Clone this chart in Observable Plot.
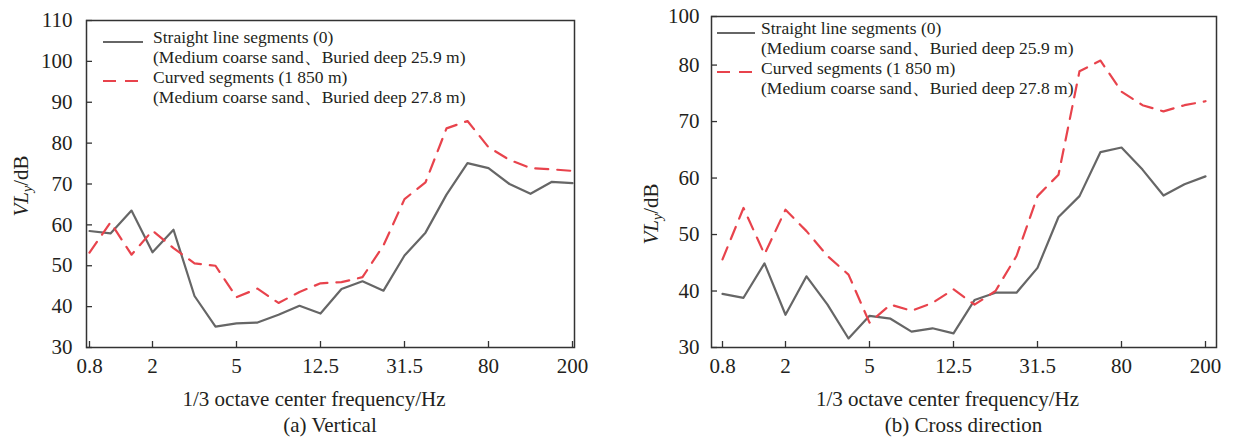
<!DOCTYPE html>
<html><head><meta charset="utf-8">
<script src="https://cdn.jsdelivr.net/npm/d3@7"></script>
<script src="https://cdn.jsdelivr.net/npm/@observablehq/plot@0.6"></script>
<style>
body{margin:0;background:#fff;width:1233px;height:438px;overflow:hidden;position:relative;font-family:"Liberation Serif","Times New Roman",serif;}
.panel{position:absolute;top:0;}
</style></head><body>
<div id="a" class="panel" style="left:0px"></div>
<div id="b" class="panel" style="left:620px"></div>
<script>
// 1/3 octave bands (as plotted: 24 points)
const freqs = ["0.8","1.25","1.6","2","2.5","3.15","4","5","6.3","8","10","12.5","16","20","25","31.5","40","50","63","80","100","125","160","200"];
const tickLabels = ["0.8","2","5","12.5","31.5","80","200"];

// (a) Vertical
const vertStraight = [58.5,57.9,63.5,53.3,58.8,42.6,35.1,35.9,36.1,38.0,40.2,38.3,44.3,46.2,43.9,52.5,58.1,67.4,75.1,73.9,70.0,67.6,70.5,70.2];
const vertCurved   = [53.2,60.6,52.7,58.6,54.3,50.6,50.0,42.3,44.4,40.9,43.6,45.7,46.0,47.2,55.0,66.3,70.4,83.6,85.4,79.0,75.9,73.9,73.6,73.2];
const vertYTicks = [30,40,50,60,70,80,90,100,110];
const vertYLabels = ["30","40","50","60","70","80","90","100","110"];

// (b) Cross direction
const crossStraight = [39.5,38.8,44.9,35.8,42.6,37.6,31.6,35.6,35.1,32.8,33.4,32.5,38.4,39.7,39.7,44.1,53.1,56.8,64.6,65.4,61.5,56.9,58.9,60.3];
const crossCurved   = [45.6,54.7,46.5,54.4,50.6,46.2,42.9,34.4,37.6,36.5,37.9,40.3,37.6,40.0,46.2,56.8,60.6,78.9,80.8,75.3,72.9,71.8,72.9,73.6];
const crossYTicks = [30,40,50,60,70,80,88.6];
const crossYLabels = ["30","40","50","60","70","80","100"];

const seriesNames = ["Straight line segments (0)", "Curved segments (1 850 m)"];
const seriesNotes = ["(Medium coarse sand\u3001Buried deep 25.9 m)", "(Medium coarse sand\u3001Buried deep 27.8 m)"];
const xTitle = "1/3 octave center frequency/Hz";
const captions = ["(a) Vertical", "(b) Cross direction"];

const GRAY = "#666666", RED = "#e8434c", INK = "#231f20", FRAME = "#333333";

function panel(el, o) {
  const data = freqs.map((f, i) => ({f, s: o.straight[i], c: o.curved[i]}));
  const H = 438;
  const chart = Plot.plot({
    width: o.width, height: H,
    marginLeft: o.ml, marginRight: o.mr, marginTop: o.mt, marginBottom: H - 347,
    style: {fontFamily: '"Liberation Serif","Times New Roman",serif', fontSize: "21px", color: INK, background: "#fff", overflow: "visible"},
    x: {type: "point", domain: freqs, padding: 0},
    y: {domain: o.yDomain},
    marks: [
      Plot.line(data, {x: "f", y: "s", stroke: GRAY, strokeWidth: 2.2}),
      Plot.line(data, {x: "f", y: "c", stroke: RED, strokeWidth: 2.2, strokeDasharray: "13,9"}),
      Plot.axisX(tickLabels, {tickSize: -6, tickFormat: () => "", label: null, stroke: FRAME, strokeWidth: 1.3}),
      Plot.axisX(tickLabels, {tickSize: 0, tickPadding: 11, label: null, fill: INK}),
      Plot.axisY(o.yTicks, {tickSize: -6, tickFormat: () => "", label: null, stroke: FRAME, strokeWidth: 1.3}),
      Plot.axisY(o.yTicks, {tickSize: 0, tickPadding: o.ypad, label: null, fill: INK,
        tickFormat: d => o.yLabels[o.yTicks.indexOf(d)]}),
      Plot.frame({stroke: FRAME, strokeWidth: 1.5})
    ]
  });
  const svg = d3.select(chart);
  const fx0 = o.ml, fx1 = o.width - o.mr;
  // legend
  const lg = svg.append("g").attr("font-size", 17.5).attr("fill", INK).attr("text-anchor", "start");
  lg.append("line").attr("x1", o.lx0).attr("x2", o.lx1).attr("y1", o.ly[0]).attr("y2", o.ly[0])
    .attr("stroke", GRAY).attr("stroke-width", 2.2);
  lg.append("line").attr("x1", o.lx0).attr("x2", o.lx1).attr("y1", o.ly[1]).attr("y2", o.ly[1])
    .attr("stroke", RED).attr("stroke-width", 2.2).attr("stroke-dasharray", "13,9");
  const rows = [seriesNames[0], seriesNotes[0], seriesNames[1], seriesNotes[1]];
  rows.forEach((t, i) => lg.append("text").attr("x", o.tx).attr("y", o.ty + i * 20.3).attr("text-anchor", "start").text(t));
  // y title
  const yt = svg.append("text").attr("transform", `translate(${o.yx},${o.yy}) rotate(-90)`)
    .attr("text-anchor", "middle").attr("font-size", 21).attr("fill", INK);
  yt.append("tspan").attr("font-style", "italic").text("VL");
  yt.append("tspan").attr("font-style", "italic").attr("font-size", 14).attr("dy", 4).text("y");
  yt.append("tspan").attr("dy", -4).text("/dB");
  // x title and caption
  const cx = (fx0 + fx1) / 2;
  svg.append("text").attr("x", cx - 16).attr("y", 406).attr("text-anchor", "middle")
    .attr("font-size", 21).attr("fill", INK).text(xTitle);
  svg.append("text").attr("x", cx).attr("y", 432).attr("text-anchor", "middle")
    .attr("font-size", 21).attr("fill", INK).text(o.caption);
  document.getElementById(el).append(chart);
}

panel("a", {
  straight: vertStraight, curved: vertCurved, yDomain: [30, 110], yTicks: vertYTicks, yLabels: vertYLabels,
  width: 620, ml: 86, mr: 46, mt: 20, ypad: 14,
  lx0: 103, lx1: 143, ly: [42, 81], tx: 153, ty: 42.5,
  yx: 28, yy: 186, caption: captions[0]
});
panel("b", {
  straight: crossStraight, curved: crossCurved, yDomain: [30, 88.6], yTicks: crossYTicks, yLabels: crossYLabels,
  width: 613, ml: 91, mr: 17, mt: 16, ypad: 12,
  lx0: 97, lx1: 135, ly: [33, 72], tx: 141, ty: 33.5,
  yx: 38, yy: 214, caption: captions[1]
});
</script>
</body></html>
